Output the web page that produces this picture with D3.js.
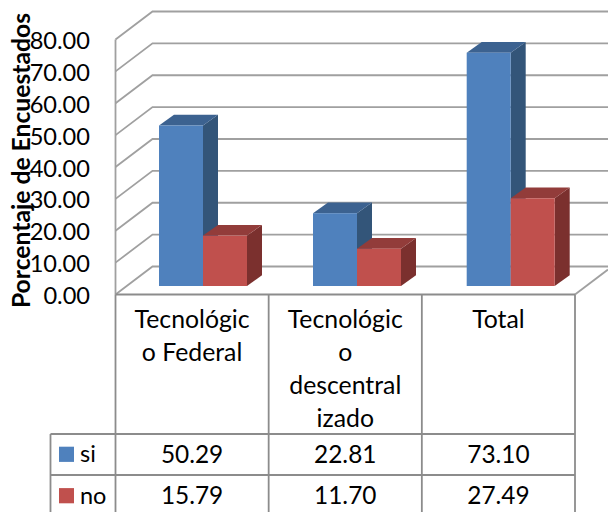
<!DOCTYPE html>
<html><head><meta charset="utf-8">
<script src="https://cdn.jsdelivr.net/npm/d3@7"></script>
<style>html,body{margin:0;padding:0;background:#fff;overflow:hidden}svg{display:block}text{font-family:Lato,"Open Sans",sans-serif}</style>
</head><body><svg id="c" width="608" height="512"></svg>
<script>
const categories=[["Tecnológic","o Federal"],["Tecnológic","o","descentral","izado"],["Total"]];
const seriesNames=["si","no"];
const si=[50.29,22.81,73.10];
const no=[15.79,11.70,27.49];
const siLabels=["50.29","22.81","73.10"];
const noLabels=["15.79","11.70","27.49"];
const yTicks=[0,10,20,30,40,50,60,70,80];
const yTickLabels=["0.00","10.00","20.00","30.00","40.00","50.00","60.00","70.00","80.00"];
const colors={si:{f:"#4f81bd",t:"#3c6290",s:"#335579"},no:{f:"#c0504d",t:"#923c3a",s:"#7b302e"}};
const grid="#a0a0a0";

const svg=d3.select("#c");
const x0=115.5,x1=575,y0=294.5;
const dx=37,dy=-28;
const y=d3.scaleLinear().domain([0,80]).range([y0,39.5]);
const x=d3.scaleBand().domain(d3.range(3)).range([x0,x1]);
const barW=44, depthX=15, depthY=-10.7, floorY=286;
const barX=[159,313,466.7];
const yBar=d3.scaleLinear().domain([0,80]).range([floorY,floorY-255.3]);

const g=svg.append("g").attr("fill","none").attr("stroke",grid).attr("stroke-width",1.8);
yTicks.forEach(t=>{
  g.append("path").attr("d",`M${x0},${y(t)}L${x0+dx},${y(t)+dy}L608,${y(t)+dy}`);
});
g.append("path").attr("d",`M${x0},${y(0)}V${y(80)}`);
g.append("path").attr("d",`M${x1},${y0}L608,${y0-25}`);

function bar(xp,v,c){
  const top=yBar(v),h=floorY-top;
  const b=svg.append("g");
  b.append("path").attr("fill",c.s).attr("d",`M${xp+barW},${top}l${depthX},${depthY}v${h}l${-depthX},${-depthY}z`);
  b.append("path").attr("fill",c.t).attr("d",`M${xp},${top}l${depthX},${depthY}h${barW}l${-depthX},${-depthY}z`);
  b.append("rect").attr("x",xp).attr("y",top).attr("width",barW).attr("height",h).attr("fill",c.f);
}
categories.forEach((_,i)=>{bar(barX[i],si[i],colors.si);bar(barX[i]+barW,no[i],colors.no);});

svg.append("text").attr("transform","translate(30,160.5) rotate(-90)").attr("text-anchor","middle")
 .attr("font-size",24.7).attr("font-weight",700).attr("fill","#000").text("Porcentaje de Encuestados");

svg.append("g").selectAll("text").data(yTicks).join("text")
 .attr("x",90).attr("y",d=>y(d)+9.5).attr("text-anchor","end").attr("font-size",23.6).attr("fill","#000")
 .text((d,i)=>yTickLabels[i]);

const t=svg.append("g").attr("fill","none").attr("stroke","#8c8c8c").attr("stroke-width",1.8);
const rowY=[294.5,434,475,512];
const leg=50.5;
t.append("path").attr("d",`M${x0},${y0}H${x1}`);
[x0,x(1),x(2),x1].forEach(v=>t.append("path").attr("d",`M${v},${y0}V512`));
t.append("path").attr("d",`M${leg},${rowY[1]}H${x1}M${leg},${rowY[2]}H${x1}M${leg},${rowY[1]}V512`);

categories.forEach((lines,i)=>{
  lines.forEach((l,j)=>svg.append("text").attr("x",x(i)+x.bandwidth()/2).attr("y",328.3+j*32.8)
   .attr("text-anchor","middle").attr("font-size",24.8).attr("fill","#000").text(l));
  svg.append("text").attr("x",x(i)+x.bandwidth()/2).attr("y",462.5).attr("text-anchor","middle").attr("font-size",24.4).attr("fill","#000").text(siLabels[i]);
  svg.append("text").attr("x",x(i)+x.bandwidth()/2).attr("y",503.5).attr("text-anchor","middle").attr("font-size",24.4).attr("fill","#000").text(noLabels[i]);
});
seriesNames.forEach((n,i)=>{
  const cy=[454.3,495.7][i];
  svg.append("rect").attr("x",59).attr("y",cy-7.6).attr("width",15).attr("height",15.2).attr("fill",i?colors.no.f:colors.si.f);
  svg.append("text").attr("x",80).attr("y",cy+8).attr("font-size",23.5).attr("fill","#000").text(n);
});
</script></body></html>
